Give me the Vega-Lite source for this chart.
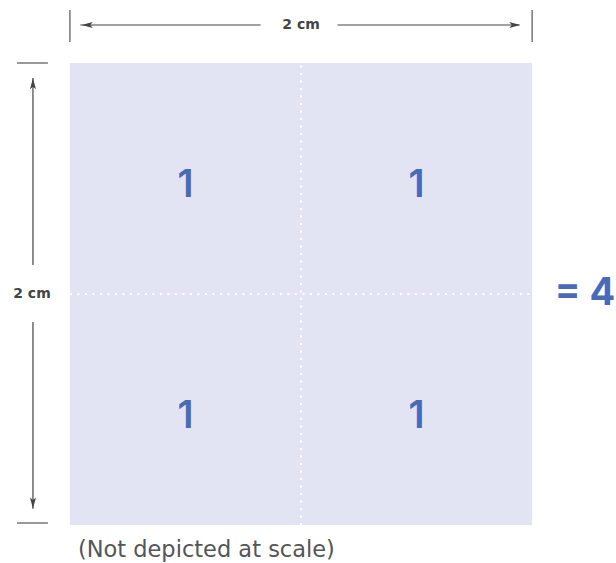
{
  "$schema": "https://vega.github.io/schema/vega-lite/v6.json",
  "width": 616,
  "height": 563,
  "padding": 0,
  "autosize": {"type": "fit", "contains": "padding"},
  "config": {"view": {"stroke": null}, "font": "Inter"},
  "encoding": {
    "x": {"type": "quantitative", "axis": null, "scale": {"domain": [-0.3024, 2.3585], "nice": false, "zero": false}},
    "y": {"type": "quantitative", "axis": null, "scale": {"domain": [-0.1645, 2.2727], "nice": false, "zero": false}}
  },
  "layer": [
    {
      "data": {"values": [{"x0": 0, "x1": 2, "y0": 0, "y1": 2}]},
      "mark": {"type": "rect", "fill": "#e2e4f4"},
      "encoding": {"x": {"field": "x0"}, "x2": {"field": "x1"}, "y": {"field": "y0"}, "y2": {"field": "y1"}}
    },
    {
      "data": {"values": [{"x0": 1, "x1": 1, "y0": 0, "y1": 2}, {"x0": 0, "x1": 2, "y0": 1, "y1": 1}]},
      "mark": {"type": "rule", "stroke": "#ffffff", "strokeWidth": 2, "strokeDash": [2, 5.5]},
      "encoding": {"x": {"field": "x0"}, "x2": {"field": "x1"}, "y": {"field": "y0"}, "y2": {"field": "y1"}}
    },
    {
      "data": {"values": [
        {"x": 0.5, "y": 1.5, "t": "1"}, {"x": 1.5, "y": 1.5, "t": "1"},
        {"x": 0.5, "y": 0.5, "t": "1"}, {"x": 1.5, "y": 0.5, "t": "1"}
      ]},
      "mark": {"type": "text", "fontSize": 38, "fontWeight": 600, "color": "#4a6ab4", "baseline": "middle", "align": "center", "dy": 8},
      "encoding": {"x": {"field": "x"}, "y": {"field": "y"}, "text": {"field": "t"}}
    },
    {
      "data": {"values": [{"x": 2.229, "y": 1.0, "t": "= 4"}]},
      "mark": {"type": "text", "fontSize": 38, "fontWeight": 700, "color": "#4a6ab4", "baseline": "middle", "align": "center"},
      "encoding": {"x": {"field": "x"}, "y": {"field": "y"}, "text": {"field": "t"}}
    },
    {
      "data": {"values": [
        {"x0": 0, "x1": 0, "y0": 2.0909, "y1": 2.2294},
        {"x0": 2, "x1": 2, "y0": 2.0909, "y1": 2.2294},
        {"x0": -0.2289, "x1": -0.095, "y0": 2, "y1": 2},
        {"x0": -0.2289, "x1": -0.095, "y0": 0.0087, "y1": 0.0087}
      ]},
      "mark": {"type": "rule", "stroke": "#777777", "strokeWidth": 1.5},
      "encoding": {"x": {"field": "x0"}, "x2": {"field": "x1"}, "y": {"field": "y0"}, "y2": {"field": "y1"}}
    },
    {
      "data": {"values": [
        {"x0": 0.045, "x1": 0.8251, "y0": 2.1645, "y1": 2.1645},
        {"x0": 1.1577, "x1": 1.945, "y0": 2.1645, "y1": 2.1645},
        {"x0": -0.1598, "x1": -0.1598, "y0": 1.1255, "y1": 1.935},
        {"x0": -0.1598, "x1": -0.1598, "y0": 0.07, "y1": 0.8788}
      ]},
      "mark": {"type": "rule", "stroke": "#444444", "strokeWidth": 1.2},
      "encoding": {"x": {"field": "x0"}, "x2": {"field": "x1"}, "y": {"field": "y0"}, "y2": {"field": "y1"}}
    },
    {
      "data": {"values": [
        {"x": 0.075, "y": 2.1645, "d": "left"},
        {"x": 1.925, "y": 2.1645, "d": "right"},
        {"x": -0.1598, "y": 1.91, "d": "up"},
        {"x": -0.1598, "y": 0.095, "d": "down"}
      ]},
      "mark": {"type": "point", "filled": true, "size": 120, "color": "#444444", "opacity": 1},
      "encoding": {
        "x": {"field": "x"}, "y": {"field": "y"},
        "shape": {"field": "d", "legend": null, "scale": {
          "domain": ["left", "right", "up", "down"],
          "range": ["M-1,0L1,-0.55L0.55,0L1,0.55Z", "M1,0L-1,-0.55L-0.55,0L-1,0.55Z", "M0,-1L-0.55,1L0,0.55L0.55,1Z", "M0,1L-0.55,-1L0,-0.55L0.55,-1Z"]
        }}
      }
    },
    {
      "data": {"values": [{"x": 1.0, "y": 2.1645, "t": "2 cm"}, {"x": -0.1641, "y": 1.0, "t": "2 cm"}]},
      "mark": {"type": "text", "font": "DejaVu Sans", "fontSize": 14, "fontWeight": 600, "color": "#444444", "baseline": "middle", "align": "center"},
      "encoding": {"x": {"field": "x"}, "y": {"field": "y"}, "text": {"field": "t"}}
    },
    {
      "data": {"values": [{"x": 0.0346, "y": -0.108, "t": "(Not depicted at scale)"}]},
      "mark": {"type": "text", "font": "DejaVu Sans", "fontSize": 22.5, "fontWeight": 400, "color": "#555555", "baseline": "middle", "align": "left"},
      "encoding": {"x": {"field": "x"}, "y": {"field": "y"}, "text": {"field": "t"}}
    }
  ]
}
